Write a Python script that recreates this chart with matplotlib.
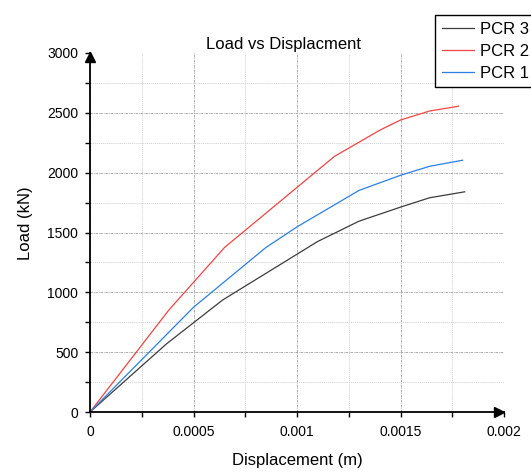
import matplotlib.pyplot as plt
from matplotlib.ticker import MultipleLocator
from matplotlib.transforms import offset_copy

plt.rcParams['font.family'] = ['Liberation Sans', 'DejaVu Sans']

# displacement (m) / load (kN)
pcr3_x = [0, 0.00037, 0.00064, 0.0011, 0.0013, 0.0015, 0.00164, 0.00181]
pcr3_y = [0, 570, 935, 1425, 1595, 1712, 1790, 1840]

pcr2_x = [0, 0.00038, 0.00065, 0.00118, 0.0014, 0.0015, 0.00164, 0.00178]
pcr2_y = [0, 850, 1375, 2135, 2355, 2440, 2515, 2555]

pcr1_x = [0, 0.0005, 0.00085, 0.001, 0.0013, 0.0015, 0.00164, 0.0018]
pcr1_y = [0, 875, 1375, 1547, 1852, 1978, 2053, 2104]

xticks = [0, 0.0005, 0.001, 0.0015, 0.002]
xtick_labels = ['0', '0.0005', '0.001', '0.0015', '0.002']
yticks = [0, 500, 1000, 1500, 2000, 2500, 3000]

fig = plt.figure(figsize=(5.31, 4.72), dpi=100)
ax = fig.add_axes([90/531, 1 - 412/472, 414/531, 359/472])

ax.plot(pcr3_x, pcr3_y, color='#3c3c3c', lw=0.9, label='PCR 3')
ax.plot(pcr2_x, pcr2_y, color='#f24444', lw=0.9, label='PCR 2')
ax.plot(pcr1_x, pcr1_y, color='#2c7fe6', lw=0.9, label='PCR 1')

ax.set_xlim(0, 0.002)
ax.set_ylim(0, 3000)
ax.set_xticks(xticks)
ax.set_xticklabels(xtick_labels)
ax.set_yticks(yticks)
ax.xaxis.set_minor_locator(MultipleLocator(0.00025))
ax.yaxis.set_minor_locator(MultipleLocator(250))

# grid lines (none along the top and right ends)
ax.grid(which='major', color='#a0a0a0', ls=(0, (3, 1, 1, 1)), lw=0.6)
ax.grid(which='minor', color='#cfcfcf', ls=(0, (1.5, 1)), lw=0.6)
ax.set_axisbelow(True)
ax.xaxis.get_gridlines()[-1].set_visible(False)
ax.yaxis.get_gridlines()[-1].set_visible(False)

for s in ['top', 'right']:
    ax.spines[s].set_visible(False)
for s in ['left', 'bottom']:
    ax.spines[s].set_linewidth(1.3)
ax.tick_params(which='both', direction='out', length=3.5, width=1.0, labelsize=10)
ax.tick_params(axis='x', pad=6)
ax.tick_params(axis='y', pad=5)

# arrow heads at the ends of the axes
ax.plot(1, 0, '>k', ms=7, clip_on=False,
        transform=offset_copy(ax.transAxes, fig, x=-3.5, units='points'))
ax.plot(0, 1, '^k', ms=7, clip_on=False,
        transform=offset_copy(ax.transAxes, fig, y=-3, units='points'))

ax.set_xlabel('Displacement (m)', fontsize=12, labelpad=10)
ax.set_ylabel('Load (kN)', fontsize=12, labelpad=10)
ax.yaxis.label.set_y(0.525)
fig.text(284/531, 1 - 45/472, 'Load vs Displacment', fontsize=12, ha='center', va='center')

leg = ax.legend(loc='upper left', bbox_to_anchor=(435/531, 1 - 15/472),
                bbox_transform=fig.transFigure, borderaxespad=0, fancybox=False,
                edgecolor='black', framealpha=1, fontsize=12, handlelength=1.95,
                handletextpad=0.35, labelspacing=0.42, borderpad=0.4)
leg.get_frame().set_linewidth(1.0)

plt.savefig('out.png', dpi=100)
